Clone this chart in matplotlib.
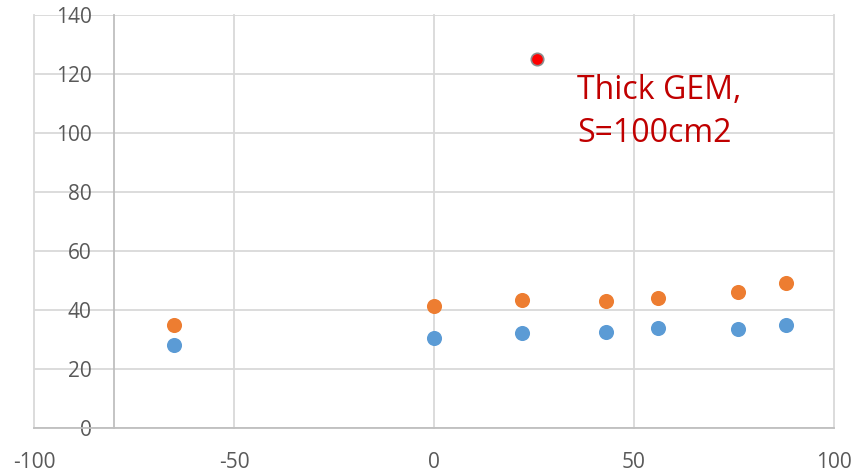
import matplotlib
matplotlib.use("Agg")
import matplotlib.pyplot as plt

# Data
x_vals = [-65, 0, 22, 43, 56, 76, 88]
blue_y = [28.1, 30.5, 32.1, 32.5, 34.0, 33.6, 35.0]
orange_y = [34.9, 41.3, 43.4, 42.9, 44.1, 46.1, 49.0]
red_x = [25.7]
red_y = [125]
x_ticks = [-100, -50, 0, 50, 100]
y_ticks = [0, 20, 40, 60, 80, 100, 120, 140]
note_text = "Thick GEM,\nS=100cm2"

plt.rcParams['font.family'] = ['Open Sans', 'DejaVu Sans']
plt.rcParams['axes.unicode_minus'] = False

fig = plt.figure(figsize=(8.54, 4.74), dpi=100)
W, H = 854, 474
ax = fig.add_axes([34 / W, (H - 428) / H, 800 / W, 413 / H])

grid_c = '#D9D9D9'
axis_c = '#BFBFBF'
txt_c = '#595959'

ax.set_xlim(-100, 100)
ax.set_ylim(0, 140)
ax.set_xticks(x_ticks)
ax.set_yticks(y_ticks)
ax.grid(True, color=grid_c, linewidth=1.3, zorder=0)
ax.set_axisbelow(True)
for gl in ax.get_xgridlines() + ax.get_ygridlines():
    gl.set_clip_on(False)

for s in ['top', 'right']:
    ax.spines[s].set_visible(False)
ax.spines['left'].set_position(('data', -80))
ax.spines['left'].set_color(axis_c)
ax.spines['left'].set_linewidth(1.3)
ax.spines['bottom'].set_color(axis_c)
ax.spines['bottom'].set_linewidth(1.3)

ax.tick_params(axis='both', length=0, labelsize=15, labelcolor=txt_c)
ax.tick_params(axis='y', pad=16)
ax.tick_params(axis='x', pad=17)

ax.scatter(x_vals, blue_y, s=118, color='#5B9BD5', zorder=3, linewidths=0)
ax.scatter(x_vals, orange_y, s=118, color='#ED7D31', zorder=3, linewidths=0)
ax.scatter(red_x, red_y, s=80, color='#FF0000', edgecolors='#8C8C8C', linewidths=1.2, zorder=3)

ax.text(35.8, 96.9, note_text, color='#C00000', fontsize=23, linespacing=1.4,
        ha='left', va='baseline', zorder=4)

fig.savefig('out.png', dpi=100)
